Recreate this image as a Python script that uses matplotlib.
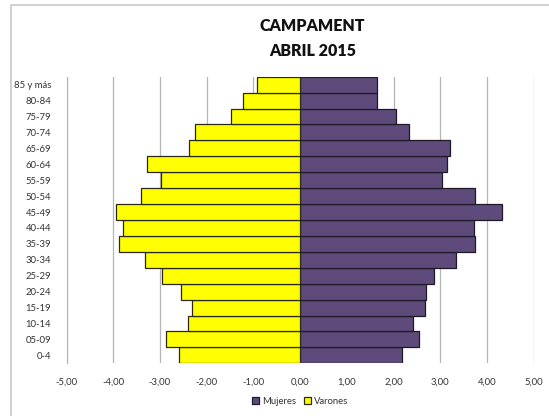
import numpy as np
import matplotlib
matplotlib.use('Agg')
import matplotlib.pyplot as plt
from matplotlib.patches import Rectangle

plt.rcParams['font.family'] = ['Lato', 'DejaVu Sans']

# grupos de edad (de abajo hacia arriba)
grupos = ['0-4', '05-09', '10-14', '15-19', '20-24', '25-29', '30-34', '35-39',
          '40-44', '45-49', '50-54', '55-59', '60-64', '65-69', '70-74', '75-79',
          '80-84', '85 y más']
varones = [-2.59, -2.88, -2.40, -2.32, -2.54, -2.95, -3.31, -3.88,
           -3.79, -3.95, -3.41, -2.98, -3.28, -2.38, -2.25, -1.47,
           -1.22, -0.92]
mujeres = [2.18, 2.54, 2.41, 2.68, 2.69, 2.87, 3.34, 3.74,
           3.73, 4.32, 3.75, 3.03, 3.15, 3.20, 2.33, 2.06,
           1.64, 1.64]
xticks = [-5, -4, -3, -2, -1, 0, 1, 2, 3, 4, 5]
xlabels = ['-5,00', '-4,00', '-3,00', '-2,00', '-1,00', '0,00',
           '1,00', '2,00', '3,00', '4,00', '5,00']

W, H = 549, 416
fig = plt.figure(figsize=(W / 100, H / 100), dpi=100)
ax = fig.add_axes([66.5 / W, 1 - 363.3 / H, (533.7 - 66.5) / W, (363.3 - 76.7) / H])

# borde exterior del grafico
fig.patches.append(Rectangle((11 / W, -0.1), 1.2, 1 - 5 / H + 0.1, transform=fig.transFigure,
                             fill=False, edgecolor='#c8c8c8', linewidth=1.2))

y = np.arange(len(grupos))
ax.barh(y, mujeres, height=1.0, color='#5f4b7b', edgecolor='#1e1a28', linewidth=0.9,
        label='Mujeres', zorder=3)
ax.barh(y, varones, height=1.0, color='#ffff00', edgecolor='#2a2a10', linewidth=0.9,
        label='Varones', zorder=3)

ax.set_xlim(-5, 5)
ax.set_ylim(-0.5, len(grupos) - 0.5)
ax.set_xticks(xticks)
ax.set_xticklabels(xlabels)
ax.set_yticks(y)
ax.set_yticklabels(grupos)
ax.tick_params(axis='both', length=0, labelsize=6.8, colors='#333333')
ax.tick_params(axis='x', pad=10)
ax.tick_params(axis='y', pad=11)

ax.grid(axis='x', color='#b4b4b4', linewidth=0.9, zorder=0)
ax.set_axisbelow(True)
for s in ['top', 'right', 'bottom']:
    ax.spines[s].set_visible(False)
ax.spines['left'].set_color('#b4b4b4')

fig.text(312.5 / W, 1 - 26 / H, 'CAMPAMENT', ha='center', va='center',
         fontsize=11.5, fontweight='heavy', color='#111111')
fig.text(312.5 / W, 1 - 51 / H, 'ABRIL 2015', ha='center', va='center',
         fontsize=11.5, fontweight='heavy', color='#111111')

leg = fig.legend(loc='center', bbox_to_anchor=(300 / W, 1 - 401 / H), ncol=2, frameon=False,
                 fontsize=6.8, handlelength=0.8, handleheight=0.8, handletextpad=0.3,
                 columnspacing=0.8)
for t in leg.get_texts():
    t.set_color('#333333')

plt.savefig('out.png', dpi=100)
